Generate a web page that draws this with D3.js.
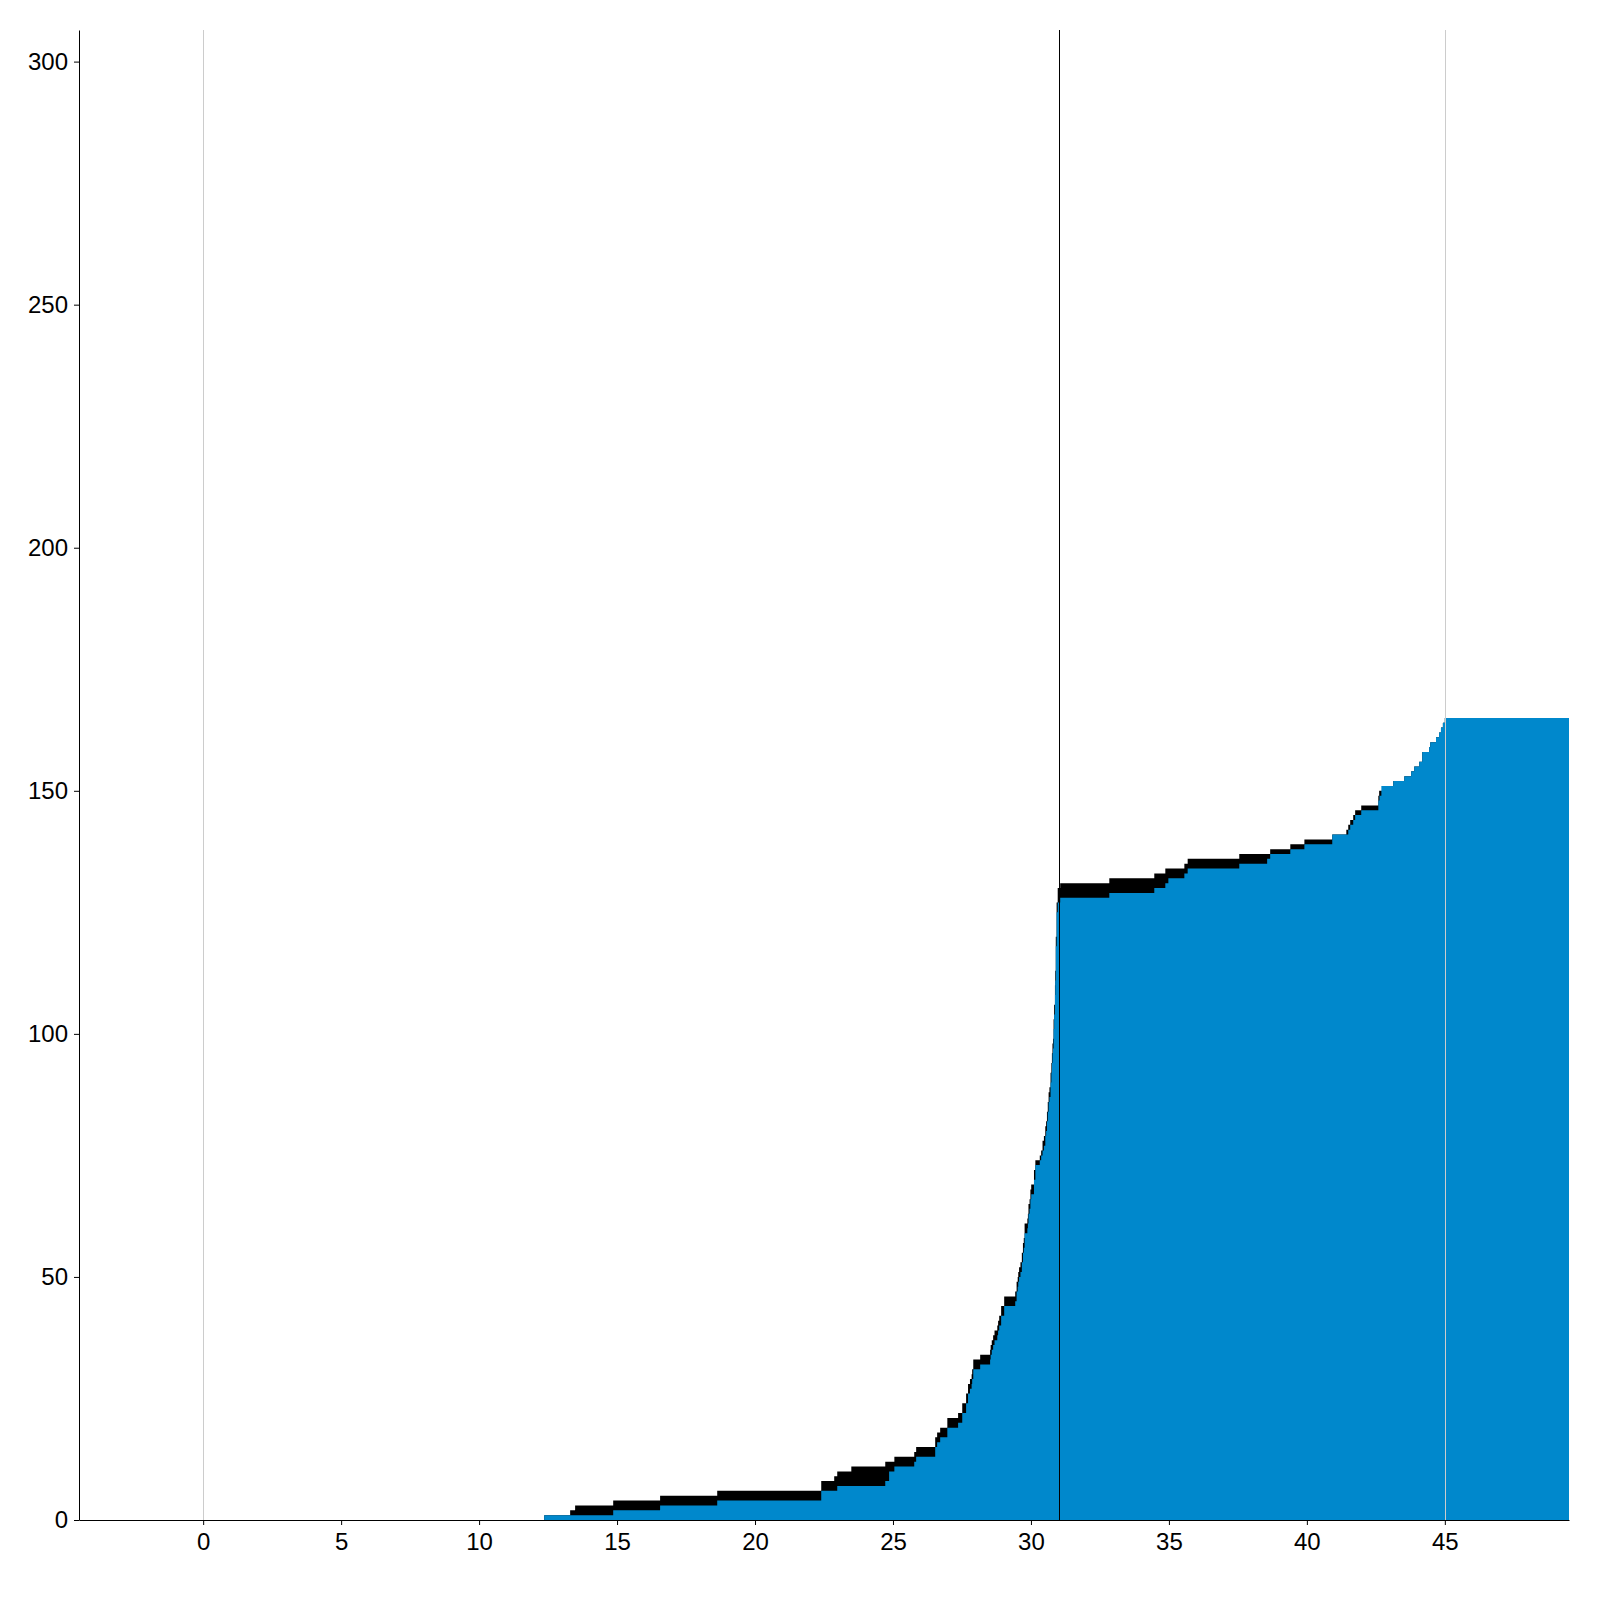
<!DOCTYPE html>
<html>
<head>
<meta charset="utf-8">
<script src="https://cdn.jsdelivr.net/npm/d3@7"></script>
<style>
  body { margin: 0; background: #fff; }
  .tick text { font-family: "Liberation Sans", Arial, sans-serif; font-size: 24px; fill: #000; }
</style>
</head>
<body>
<div class="container"></div>
<script>
// step series: [x, value]
var totalSteps = [
  [12.36,1],[13.30,2],[13.48,3],[14.86,4],[16.56,5],[18.63,6],[22.40,8],[22.87,9],
  [22.98,10],[23.49,11],[24.72,12],[25.05,13],[25.77,14],[25.84,15],[26.53,17],[26.60,18],
  [26.71,19],[26.97,21],[27.36,22],[27.51,24],[27.65,26],[27.72,28],[27.79,29],[27.85,30],
  [27.87,31],[27.91,33],[28.16,34],[28.52,35],[28.54,36],[28.58,37],[28.63,38],[28.68,39],
  [28.78,40],[28.81,41],[28.85,42],[28.92,44],[29.03,46],[29.43,47],[29.48,49],[29.52,50],
  [29.54,51],[29.57,52],[29.62,53],[29.67,55],[29.71,57],[29.74,58],[29.77,61],[29.87,62],
  [29.89,63],[29.91,65],[29.95,66],[29.98,68],[30.01,69],[30.11,72],[30.16,74],[30.32,75],
  [30.37,76],[30.42,78],[30.47,79],[30.52,81],[30.55,82],[30.58,84],[30.61,86],[30.64,88],
  [30.67,89],[30.71,92],[30.74,94],[30.76,96],[30.78,98],[30.80,99],[30.82,103],[30.84,106],
  [30.87,110],[30.88,113],[30.90,120],[30.93,127],[30.97,130],[31.06,131],[32.84,132],[34.47,133],
  [34.87,134],[35.56,135],[35.68,136],[37.55,137],[38.67,138],[39.40,139],[39.91,140],[40.92,141],
  [41.43,142],[41.50,143],[41.57,144],[41.68,145],[41.75,146],[41.97,147],[42.59,149],[42.62,150],
  [42.77,151],[43.13,152],[43.53,153],[43.78,154],[43.89,155],[44.07,156],[44.18,158],[44.43,159],
  [44.47,160],[44.68,161],[44.79,162],[44.86,163],[44.93,164],[45.00,165]
];

var blueSteps = [
  [12.36,1],[14.86,2],[16.56,3],[18.63,4],[22.40,6],[22.98,7],[24.72,8],[24.86,10],
  [25.05,11],[25.77,12],[25.84,13],[26.53,15],[26.60,16],[26.71,17],[26.97,19],[27.36,20],
  [27.51,22],[27.65,24],[27.72,26],[27.79,27],[27.85,28],[27.87,29],[27.91,31],[28.16,32],
  [28.52,33],[28.54,34],[28.58,35],[28.63,36],[28.68,37],[28.78,38],[28.81,39],[28.85,40],
  [28.92,42],[29.03,44],[29.43,45],[29.48,47],[29.52,48],[29.54,49],[29.57,50],[29.62,51],
  [29.67,53],[29.71,55],[29.74,56],[29.77,59],[29.87,60],[29.89,61],[29.91,63],[29.95,64],
  [29.98,66],[30.01,67],[30.11,70],[30.16,73],[30.32,74],[30.37,75],[30.42,76],[30.47,77],
  [30.52,79],[30.55,80],[30.58,82],[30.61,84],[30.64,86],[30.67,87],[30.71,90],[30.74,92],
  [30.76,94],[30.78,96],[30.80,97],[30.82,101],[30.84,104],[30.87,108],[30.88,111],[30.90,118],
  [30.93,125],[30.97,127],[31.06,128],[32.84,129],[34.47,130],[34.87,131],[34.98,132],[35.56,133],
  [35.68,134],[37.55,135],[38.56,136],[38.67,137],[39.40,138],[39.91,139],[40.92,141],[41.50,142],
  [41.57,143],[41.68,144],[41.75,145],[41.97,146],[42.59,148],[42.63,149],[42.70,151],[43.13,152],
  [43.53,153],[43.78,154],[43.89,155],[44.07,156],[44.18,158],[44.43,159],[44.47,160],[44.68,161],
  [44.79,162],[44.86,163],[44.93,164],[45.00,165]
];

var xTicks = [0, 5, 10, 15, 20, 25, 30, 35, 40, 45];
var yTicks = [0, 50, 100, 150, 200, 250, 300];
var greyLines = [0, 45];
var markLine = 31;
var xDomain = [-4.5, 49.5];
var yDomain = [0, 306.5];

const WIDTH = 1600;
const HEIGHT = 1600;
const MARGIN = {top: 30, right: 31, bottom: 80, left: 79};
const INNER_WIDTH = WIDTH - MARGIN.left - MARGIN.right;
const INNER_HEIGHT = HEIGHT - MARGIN.top - MARGIN.bottom;

var translate = function(x, y){
  return "translate(" + x + "," + y + ")";
};

var svg = d3.select('.container').append('svg')
  .attr('width', WIDTH)
  .attr('height', HEIGHT)
  .style('display', 'block');

var xScale = d3.scaleLinear().domain(xDomain).range([0, INNER_WIDTH]);
var yScale = d3.scaleLinear().domain(yDomain).range([INNER_HEIGHT, 0]);

var plot = svg.append('g').attr('transform', translate(MARGIN.left, MARGIN.top));

// run the last step out to the right edge
var extend = function (steps) {
  var last = steps[steps.length - 1];
  return steps.concat([[xDomain[1], last[1]]]);
};

var area = d3.area()
  .x(function(d){ return xScale(d[0]); })
  .y0(yScale(0))
  .y1(function(d){ return yScale(d[1]); })
  .curve(d3.curveStepAfter);

plot.append('path')
  .datum(extend(totalSteps))
  .attr('fill', '#000')
  .attr('d', area);

plot.append('path')
  .datum(extend(blueSteps))
  .attr('fill', '#0088cc')
  .attr('d', area);

plot.selectAll('line.grey')
  .data(greyLines)
  .enter().append('line')
  .attr('class', 'grey')
  .attr('x1', function(d){ return Math.round(xScale(d)) + 0.5; })
  .attr('x2', function(d){ return Math.round(xScale(d)) + 0.5; })
  .attr('y1', 0)
  .attr('y2', INNER_HEIGHT)
  .attr('stroke', '#cccccc')
  .attr('stroke-width', 1);

plot.append('line')
  .attr('x1', Math.round(xScale(markLine)) + 0.5)
  .attr('x2', Math.round(xScale(markLine)) + 0.5)
  .attr('y1', 0)
  .attr('y2', INNER_HEIGHT)
  .attr('stroke', '#000')
  .attr('stroke-width', 1);

var xAxis = d3.axisBottom(xScale).tickValues(xTicks).tickSize(5).tickSizeOuter(0).tickPadding(8);
var yAxis = d3.axisLeft(yScale).tickValues(yTicks).tickSize(5).tickSizeOuter(0).tickPadding(6);

svg.append('g')
  .attr('transform', translate(MARGIN.left, MARGIN.top + INNER_HEIGHT))
  .call(xAxis);

svg.append('g')
  .attr('transform', translate(MARGIN.left, MARGIN.top))
  .call(yAxis);

svg.selectAll('.domain, .tick line').attr('stroke', '#000');
</script>
</body>
</html>
